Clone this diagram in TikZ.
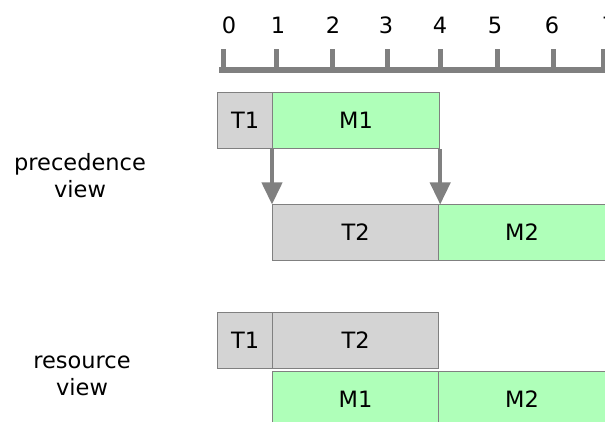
\documentclass[tikz,border=0pt]{standalone}
\usepackage{fontspec}
\setmainfont{DejaVu Sans}
\usetikzlibrary{arrows.meta}
\definecolor{axisgray}{HTML}{808080}
\definecolor{taskgray}{HTML}{D4D4D4}
\definecolor{msggreen}{HTML}{AFFFB9}
\tikzset{
  blk/.style={draw=axisgray, line width=1.2pt, inner sep=0pt, anchor=north west, font=\fontsize{22.5}{26}\selectfont},
  tsk/.style={blk, fill=taskgray},
  msg/.style={blk, fill=msggreen},
  dep/.style={draw=axisgray, line width=4pt, -{Triangle[width=20pt,length=22pt]}, shorten >=-0.5pt},
  tick/.style={draw=axisgray, line width=5pt},
  num/.style={font=\fontsize{22.5}{26}\selectfont},
  lbl/.style={font=\fontsize{22.5}{27}\selectfont, align=center}
}
\begin{document}
\begin{tikzpicture}[x=1pt,y=-1pt]
\useasboundingbox (0,0) rectangle (605,422);
\clip (0,0) rectangle (605,422);
% axis
\coordinate (ax0) at (219,70);
\coordinate (ax1) at (608,70);
\draw[axisgray, line width=6pt] (ax0) -- (ax1);
\foreach \i/\x/\lx in {0/223/229,1/276/278,2/332/333,3/387/386,4/440/440,5/497/495,6/553/552,7/603/609}{
  \draw[tick] (\x,73) -- (\x,49);
  \node[num] (n\i) at (\lx,25) {\i};
}
% precedence view
\node[tsk, minimum width=55pt, minimum height=56pt] (pT1) at (217,92) {T1};
\node[msg, minimum width=167pt, minimum height=56pt] (pM1) at (272,92) {M1};
\node[tsk, minimum width=166pt, minimum height=56pt] (pT2) at (272,204) {T2};
\node[msg, minimum width=167pt, minimum height=56pt] (pM2) at (438,204) {M2};
\draw[dep] (pM1.south west) -- (pM1.south west |- pT2.north west);
\draw[dep] (pM1.south east) -- (pM1.south east |- pM2.north west);
\node[lbl] (pv) at (80,176) {precedence\\view};
% resource view
\node[tsk, minimum width=55pt, minimum height=56pt] (rT1) at (217,312) {T1};
\node[tsk, minimum width=166pt, minimum height=56pt] (rT2) at (272,312) {T2};
\node[msg, minimum width=166pt, minimum height=56pt] (rM1) at (272,371) {M1};
\node[msg, minimum width=167pt, minimum height=56pt] (rM2) at (438,371) {M2};
\node[lbl] (rv) at (82,376) {resource\\view};
\end{tikzpicture}
\end{document}
